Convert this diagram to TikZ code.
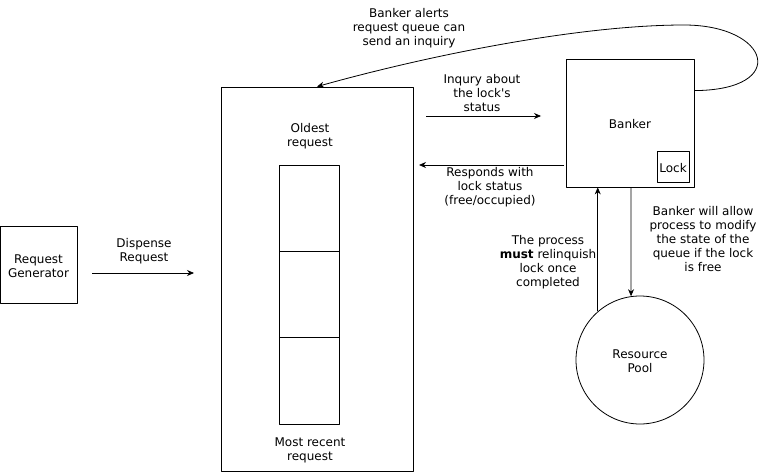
\documentclass[tikz,border=0pt]{standalone}
\usepackage{fontspec}
\setmainfont{DejaVu Sans}[Ligatures=TeXOff]
\usetikzlibrary{arrows.meta,calc}
\begin{document}
\begin{tikzpicture}[x=1pt,y=-1pt,font=\fontsize{12}{14}\selectfont, line join=round, line width=0.8pt, >={Stealth[length=7pt,width=6pt]},
    box/.style={draw,inner sep=0pt,align=center},
    lbl/.style={align=center,inner sep=0pt,yshift=-1.5pt}]
    \useasboundingbox (0,0) rectangle (767,473);
    % boxes
    \node[box,minimum width=77,minimum height=77] (gen) at (38.5,264.5) {};
    \node[box,minimum width=192,minimum height=384] (queue) at (317,279) {};
    \node[box,minimum width=60,minimum height=86.3] (cella) at (309,208.2) {};
    \node[box,minimum width=60,minimum height=86.3] (cellb) at (309,294.5) {};
    \node[box,minimum width=60,minimum height=86.3] (cellc) at (309,380.8) {};
    \node[box,minimum width=128,minimum height=128] (banker) at (630,123) {};
    \node[box,minimum width=32,minimum height=31] (lock) at (673,166.5) {};
    \node[box,circle,minimum size=128] (pool) at (640,360) {};
    % labels
    \node[lbl] (gentext) at (gen) {Request\\Generator};
    \node[lbl] (bankertext) at (banker) {Banker};
    \node[lbl] (locktext) at (lock) {Lock};
    \node[lbl] (pooltext) at (pool) {Resource\\Pool};
    \node[lbl] (oldest) at (310,135) {Oldest\\request};
    \node[lbl] (recent) at (310,449) {Most recent\\request};
    \node[lbl] (dispense) at (144,250) {Dispense\\Request};
    \node[lbl] (inquiry) at (482,92) {Inqury about\\the lock's\\status};
    \node[lbl] (responds) at (490,186) {Responds with\\lock status\\(free/occupied)};
    \node[lbl] (alerts) at (409,27) {Banker alerts\\request queue can\\send an inquiry};
    \node[lbl] (relinq) at (548,261) {The process\\{\bfseries must} relinquish\\lock once\\completed};
    \node[lbl] (allow) at (703,238) {Banker will allow\\process to modify\\the state of the\\queue if the lock\\is free};
    % free ends
    \coordinate (d1) at (92,273);
    \coordinate (d2) at (194,273);
    \coordinate (q1) at (426,116);
    \coordinate (q2) at (541,116);
    \coordinate (r1) at (564,165);
    \coordinate (r2) at (419,165);
    \coordinate (b1) at ($(banker.north east)+(0,32)$);
    % arrows
    \draw[->] (d1) -- (d2);
    \draw[->] (q1) -- (q2);
    \draw[->] (r1) -- (r2);
    \draw[->] (pool.131) -- (pool.131 |- banker.south);
    \draw[->] ($(banker.south)+(1,0)$) -- (pool.98);
    \draw[->] (b1) .. controls (790,90) and (770,25) .. (684,25) .. controls (580,25) and (430,55) .. (queue.north);
\end{tikzpicture}
\end{document}
